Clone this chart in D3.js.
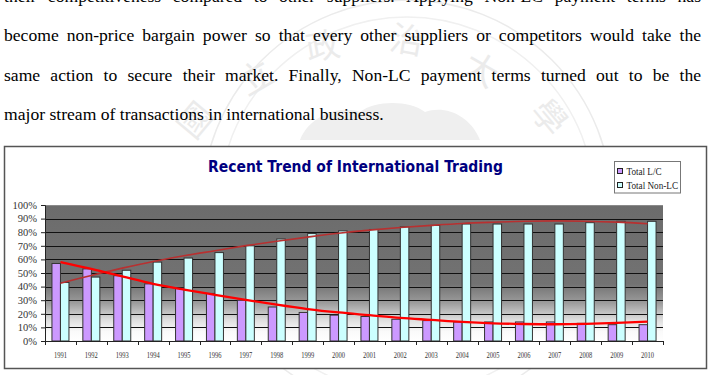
<!DOCTYPE html>
<html><head><meta charset="utf-8">
<script src="https://cdn.jsdelivr.net/npm/d3@7"></script>
<style>html,body{margin:0;padding:0;background:#fff;overflow:hidden}
.serif{font-family:"Liberation Serif","DejaVu Serif",serif}</style>
</head><body>
<svg id="c" width="710" height="375"></svg>
<script>
const years = ["1991","1992","1993","1994","1995","1996","1997","1998","1999","2000","2001","2002","2003","2004","2005","2006","2007","2008","2009","2010"];
const lcValues = [57,53,48,42,39,35,30,25,21,19,18,16,15,14,14,14,14,13,12,12];
const nonLcValues = [43,47,52,58,61,65,70,75,79,81,82,84,85,86,86,86,86,87,88,88];
const lcTrend = [58,53,47.5,42,37.8,34,30.3,26.7,23.5,21,19,17,15.5,14,13,12.5,12.3,12.6,13.3,14.3];
const nonLcTrend = [42.5,48.2,53.6,58.5,62.7,66.4,70.1,73.4,76.4,79.2,81.5,83.4,85,86.4,87.3,88,88.3,88.1,87.4,86.2];
const yTicks = [0,10,20,30,40,50,60,70,80,90,100];
const seriesNames = ["Total L/C","Total Non-LC"];
const seriesColors = ["#cc99ff","#ccffff"];
const titleText = "Recent Trend of International Trading";
const paragraph = [
  "their competitiveness compared to other suppliers. Applying Non-LC payment terms has",
  "become non-price bargain power so that every other suppliers or competitors would take the",
  "same action to secure their market. Finally, Non-LC payment terms turned out to be the",
  "major stream of transactions in international business."
];

const svg = d3.select("#c");

// watermark
const wm = svg.append("g").attr("fill","none").attr("stroke","#ebebeb").attr("stroke-width",1.5);
wm.append("circle").attr("cx",407).attr("cy",205).attr("r",205);
wm.append("circle").attr("cx",407).attr("cy",205).attr("r",188).attr("stroke","#f0f0f0");
const wmt = svg.append("g").attr("fill","#ebebeb").attr("font-family","Noto Sans CJK TC").attr("font-size",34).attr("text-anchor","middle");
[["國",205,128,-50],["立",262,88,-30],["政",325,58,-10],["治",405,52,10],["大",475,80,30],["學",540,125,50]].forEach(d=>{
  wmt.append("text").attr("transform",`translate(${d[1]},${d[2]}) rotate(${d[3]})`).text(d[0]);
});
svg.append("path").attr("d","M300,140 C310,115 340,105 360,112 C375,100 410,100 425,112 C445,105 470,115 480,140 Z").attr("fill","#efefef");

// paragraph text (justified)
const tg = svg.append("g").attr("class","serif").attr("font-size",17.6).attr("fill","#000");
const baselines = [2,41,80.5,120];
const left = 4, right = 701;
paragraph.forEach((line,i)=>{
  const words = line.split(" ");
  const nodes = words.map(w=>tg.append("text").attr("y",baselines[i]).text(w));
  const widths = nodes.map(n=>n.node().getComputedTextLength());
  const total = d3.sum(widths);
  const justify = i < paragraph.length-1;
  const gap = justify ? (right-left-total)/(words.length-1) : 4.4;
  let x = left;
  nodes.forEach((n,j)=>{ n.attr("x",x); x += widths[j]+gap; });
});

// chart frame
svg.append("rect").attr("x",4.5).attr("y",146.5).attr("width",702).attr("height",222)
  .attr("fill","#fff").attr("stroke","#555").attr("stroke-width",1.5);

const m = {l:45, r:663, t:205, b:341};
const x0 = d3.scaleBand().domain(years).range([m.l,m.r]).paddingInner(0.45).paddingOuter(0.225);
const x1 = d3.scaleBand().domain([0,1]).range([0,x0.bandwidth()]);
const y = d3.scaleLinear().domain([0,100]).range([m.b,m.t]);

// plot gradient
const defs = svg.append("defs");
const gr = defs.append("linearGradient").attr("id","bg").attr("x1",0).attr("y1",0).attr("x2",0).attr("y2",1);
[[0,"#6c6c6c"],[0.58,"#727272"],[0.72,"#9c9c9c"],[0.84,"#dcdcdc"],[0.93,"#fafafa"],[1,"#ffffff"]].forEach(s=>gr.append("stop").attr("offset",s[0]).attr("stop-color",s[1]));
svg.append("rect").attr("x",m.l).attr("y",m.t).attr("width",m.r-m.l).attr("height",m.b-m.t).attr("fill","url(#bg)");
svg.append("line").attr("x1",m.l).attr("x2",m.r).attr("y1",m.t+0.5).attr("y2",m.t+0.5).attr("stroke","#8a8a8a");

// gridlines
svg.append("g").selectAll("line").data(yTicks.filter(t=>t>0&&t<100)).join("line")
  .attr("x1",m.l).attr("x2",m.r).attr("y1",d=>Math.round(y(d))+0.5).attr("y2",d=>Math.round(y(d))+0.5)
  .attr("stroke","#111").attr("stroke-width",1);

// bars
const groups = svg.append("g").selectAll("g").data(years).join("g").attr("transform",d=>`translate(${x0(d)},0)`);
groups.each(function(yr,i){
  const vals=[lcValues[i],nonLcValues[i]];
  d3.select(this).selectAll("rect").data(vals).join("rect")
    .attr("x",(d,k)=>x1(k)).attr("width",x1.bandwidth())
    .attr("y",d=>y(d)).attr("height",d=>y(0)-y(d))
    .attr("fill",(d,k)=>seriesColors[k]).attr("stroke","#333").attr("stroke-width",1);
});

// trend lines
const cx = d=>x0(d)+x0.bandwidth()/2;
const ln = d3.line().x((d,i)=>cx(years[i])).y(d=>y(d)).curve(d3.curveCatmullRom);
svg.append("path").attr("d",ln(nonLcTrend)).attr("fill","none").attr("stroke","#b83030").attr("stroke-width",1.6);
svg.append("path").attr("d",ln(lcTrend)).attr("fill","none").attr("stroke","#ff0000").attr("stroke-width",2.3);

// axes
const yAxis = d3.axisLeft(y).tickValues(yTicks).tickFormat(d=>d+"%").tickSize(4).tickPadding(4);
const ya = svg.append("g").attr("transform",`translate(${m.l},0)`).call(yAxis);
ya.select(".domain").attr("stroke","#222");
ya.selectAll(".tick line").attr("stroke","#222");
ya.selectAll("text").attr("font-family",null).attr("class","serif").attr("font-size",10.5).attr("fill","#333");
ya.attr("font-family",null);

const xa = svg.append("g").attr("transform",`translate(0,${m.b})`);
xa.append("line").attr("x1",m.l).attr("x2",m.r).attr("y1",0.5).attr("y2",0.5).attr("stroke","#222");
const step = x0.step();
xa.selectAll("line.t").data(d3.range(years.length+1)).join("line").attr("class","t")
  .attr("x1",i=>Math.round(m.l+i*step)+0.5).attr("x2",i=>Math.round(m.l+i*step)+0.5).attr("y1",0).attr("y2",4).attr("stroke","#222");
xa.selectAll("text").data(years).join("text").attr("class","serif")
  .attr("x",d=>cx(d)).attr("y",17).attr("text-anchor","middle")
  .attr("font-size",8.5).attr("fill","#333")
  .attr("textLength",13).attr("lengthAdjust","spacingAndGlyphs").text(d=>d);

// title
svg.append("text").attr("x",355.5).attr("y",172).attr("text-anchor","middle")
  .attr("font-family","DejaVu Sans").attr("font-weight","bold").attr("font-size",15.5).attr("fill","#000080")
  .attr("textLength",295).attr("lengthAdjust","spacingAndGlyphs").text(titleText);

// legend
const lg = svg.append("g");
lg.append("rect").attr("x",614.5).attr("y",161.5).attr("width",66).attr("height",31.5).attr("fill","#fff").attr("stroke","#777");
seriesNames.forEach((n,i)=>{
  const yy = 168.5 + i*14;
  lg.append("rect").attr("x",617.5).attr("y",yy).attr("width",5).attr("height",5).attr("fill",seriesColors[i]).attr("stroke","#222");
  lg.append("text").attr("class","serif").attr("x",626.5).attr("y",yy+6.5).attr("font-size",10.5).attr("fill","#222")
    .attr("textLength",i===0?35:51.5).attr("lengthAdjust","spacingAndGlyphs").text(n);
});
</script>
</body></html>
